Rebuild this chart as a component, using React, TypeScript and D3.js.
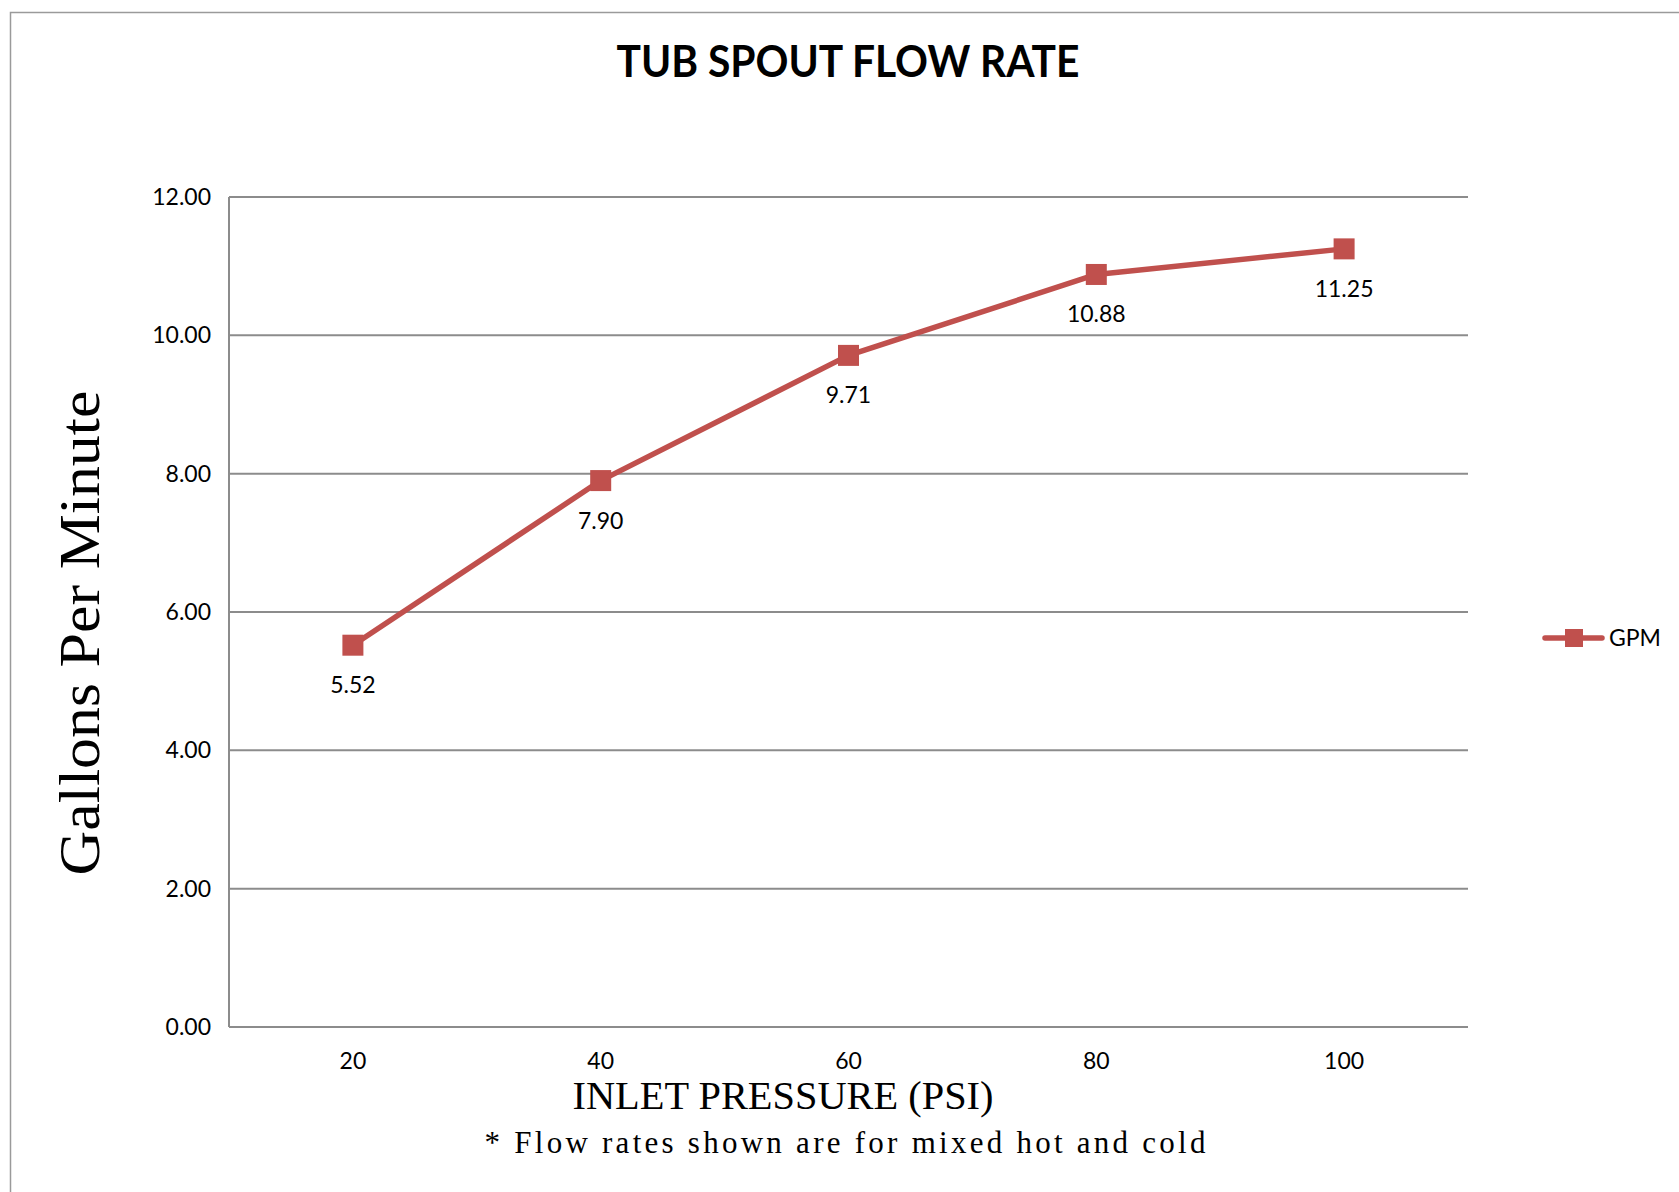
import React from 'react'
import * as d3 from 'd3'

const pressures = ['20', '40', '60', '80', '100']
const gpm = [5.52, 7.9, 9.71, 10.88, 11.25]
const yTicks = [0, 2, 4, 6, 8, 10, 12]

const W = 1679
const H = 1192
const margin = { top: 197, right: 211, bottom: 165, left: 229 }
const red = '#C0504D'
const grid = '#8c8c8c'
const numFont = 'Lato, "Open Sans", sans-serif'
const serif = '"Liberation Serif", "DejaVu Serif", serif'

const App: React.FC = () => {
  const x = d3.scaleBand<string>()
    .domain(pressures)
    .range([margin.left, W - margin.right])
    .padding(0)

  const y = d3.scaleLinear()
    .domain([0, 12])
    .range([H - margin.bottom, margin.top])

  const cx = (p: string) => (x(p) as number) + x.bandwidth() / 2

  const line = d3.line<number>()
    .x((_, i) => cx(pressures[i]))
    .y(d => y(d))

  const plotRight = W - margin.right
  const plotBottom = H - margin.bottom

  return (
    <svg width={W} height={H} style={{ position: 'absolute', left: 0, top: 0, background: '#fff' }}>
      {/* chart frame, runs off the right and bottom */}
      <path d={`M10.5,${H} V12.5 H${W}`} fill="none" stroke="#9a9a9a" strokeWidth={1.5} />

      <text x={848} y={77} textAnchor="middle" fontFamily={numFont} fontWeight="bold" fontSize={44}
        textLength={463} lengthAdjust="spacingAndGlyphs" fill="#000">
        TUB SPOUT FLOW RATE
      </text>

      {/* gridlines */}
      {yTicks.map(t => (
        <line key={t} x1={margin.left} x2={plotRight} y1={y(t)} y2={y(t)} stroke={grid} strokeWidth={2} />
      ))}
      <line x1={margin.left} x2={margin.left} y1={margin.top} y2={plotBottom} stroke={grid} strokeWidth={2} />

      {yTicks.map(t => (
        <text key={t} x={211} y={y(t) + 8} textAnchor="end" fontFamily={numFont} fontSize={23} fill="#000">
          {t.toFixed(2)}
        </text>
      ))}

      {pressures.map(p => (
        <text key={p} x={cx(p)} y={1069} textAnchor="middle" fontFamily={numFont} fontSize={23} fill="#000">
          {p}
        </text>
      ))}

      <path d={line(gpm) as string} fill="none" stroke={red} strokeWidth={5.5} strokeLinejoin="round" />
      {gpm.map((v, i) => (
        <g key={i}>
          <rect x={cx(pressures[i]) - 10.5} y={y(v) - 10.5} width={21} height={21} fill={red} />
          <text x={cx(pressures[i])} y={y(v) + 48} textAnchor="middle" fontFamily={numFont} fontSize={23} fill="#000">
            {v.toFixed(2)}
          </text>
        </g>
      ))}

      {/* legend */}
      <line x1={1545} x2={1602} y1={638} y2={638} stroke={red} strokeWidth={5.5} strokeLinecap="round" />
      <rect x={1565} y={629} width={18} height={18} fill={red} />
      <text x={1609} y={646} fontFamily={numFont} fontSize={23} fill="#000">GPM</text>

      {/* axis titles */}
      <text transform="translate(99,633) rotate(-90)" textAnchor="middle" fontFamily={serif} fontSize={56}
        textLength={485} lengthAdjust="spacingAndGlyphs" fill="#000">
        Gallons Per Minute
      </text>
      <text x={783} y={1109} textAnchor="middle" fontFamily={serif} fontSize={41}
        textLength={421} lengthAdjust="spacingAndGlyphs" fill="#000">
        INLET PRESSURE (PSI)
      </text>
      <text x={845} y={1153} textAnchor="middle" fontFamily={serif} fontSize={31}
        textLength={721} lengthAdjust="spacing" fill="#000">
        * Flow rates shown are for mixed hot and cold
      </text>
    </svg>
  )
}

export default App
